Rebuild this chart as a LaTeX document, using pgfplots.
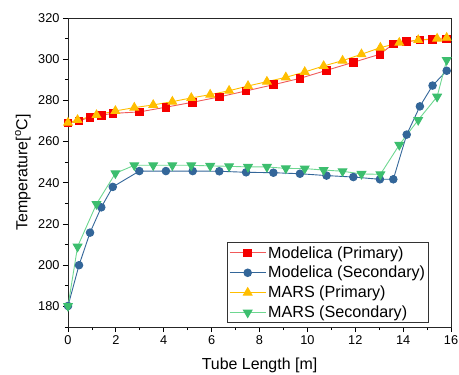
\documentclass[border=0pt]{standalone}
\usepackage{pgfplots}
\pgfplotsset{compat=1.18}
\usepackage{fontspec}
\setmainfont{Liberation Sans}
\definecolor{cRed}{RGB}{245,0,0}
\definecolor{cRedL}{RGB}{240,90,90}
\definecolor{cBlue}{RGB}{51,102,153}
\definecolor{cYel}{RGB}{255,190,0}
\definecolor{cGrn}{RGB}{60,190,110}
\definecolor{cGrnL}{RGB}{110,215,145}
\begin{document}
\begin{tikzpicture}
\begin{axis}[
  at={(0,0)}, anchor=south west,
  scale only axis,
  width=383bp, height=309bp,
  xmin=0, xmax=16, ymin=170, ymax=320,
  xtick={0,2,...,16}, minor xtick={1,3,...,15},
  ytick={180,200,...,320}, minor ytick={170,190,...,310},
  tick align=outside,
  major tick length=5bp, minor tick length=3bp,
  xtick pos=bottom, ytick pos=left,
  axis line style={black!85, line width=0.8bp},
  every tick/.style={black, line width=0.8bp},
  /pgf/number format/assume math mode=true,
  ticklabel style={font=\fontsize{12.8}{15}\selectfont},
  label style={font=\fontsize{16}{19}\selectfont},
  xlabel={Tube Length [m]},
  ylabel={Temperature[\textsuperscript{o}C]},
  xlabel style={at={(axis description cs:0.5,-0.123)}, anchor=center},
  ylabel style={at={(axis description cs:-0.1175,0.5)}, anchor=center},
  legend style={at={(axis description cs:0.9426,0.0129)}, anchor=south east,
    font=\fontsize{16.2}{18}\selectfont, draw=black!80, line width=0.8bp,
    row sep=2.7bp, inner sep=1.5bp, cells={anchor=west}},
  legend image code/.code={
    \draw[mark repeat=2,mark phase=2] plot coordinates {(0bp,0bp)(18bp,0bp)(36bp,0bp)};
  },
  clip=false,
]
\addplot[cRedL, line width=0.9bp, mark=square*, mark size=3.8bp, mark options={cRed, fill=cRed, draw=cRed}] coordinates {
(0,269.0)(0.46,270.1)(0.92,271.8)(1.39,272.8)(1.87,273.7)(2.98,274.4)(4.09,276.7)(5.21,279.1)(6.32,281.7)(7.44,284.6)(8.58,287.6)(9.69,290.7)(10.8,294.6)(11.92,298.5)(13.03,302.4)(13.59,307.4)(14.15,308.5)(14.7,309.3)(15.23,309.7)(15.82,309.8)};
\addlegendentry{Modelica (Primary)}
\addplot[cBlue, line width=0.9bp, mark=*, mark size=3.8bp, mark options={fill=cBlue}] coordinates {
(0,180.2)(0.46,200.0)(0.92,215.8)(1.39,228.1)(1.87,238.0)(2.98,245.7)(4.09,245.7)(5.21,245.7)(6.32,245.6)(7.44,245.1)(8.58,244.9)(9.69,244.4)(10.8,243.5)(11.92,242.8)(13.03,241.7)(13.59,241.7)(14.15,263.4)(14.7,277.1)(15.23,287.2)(15.82,294.4)};
\addlegendentry{Modelica (Secondary)}
\addplot[cYel, line width=0.9bp, mark=triangle*, mark size=5bp, mark options={fill=cYel}] coordinates {
(0,269.2)(0.4,270.5)(1.19,272.9)(1.98,274.9)(2.77,276.5)(3.56,277.8)(4.36,279.4)(5.15,281.2)(5.94,282.8)(6.73,284.7)(7.52,287.0)(8.31,289.1)(9.1,291.2)(9.89,293.8)(10.68,296.7)(11.47,299.3)(12.26,302.4)(13.05,305.6)(13.84,308.0)(14.63,309.3)(15.42,310.0)(15.82,310.4)};
\addlegendentry{MARS (Primary)}
\addplot[cGrnL, line width=0.9bp, mark=triangle*, mark size=5bp, mark options={cGrn, fill=cGrn, rotate=180}] coordinates {
(0,180.2)(0.4,209.0)(1.19,229.7)(1.98,244.6)(2.77,248.5)(3.56,248.5)(4.36,248.5)(5.15,248.5)(5.94,248.2)(6.73,248.0)(7.52,247.7)(8.31,247.7)(9.1,247.0)(9.89,246.9)(10.68,246.2)(11.47,245.6)(12.26,244.3)(13.05,244.1)(13.84,258.4)(14.63,270.5)(15.42,281.8)(15.82,299.6)};
\addlegendentry{MARS (Secondary)}
\end{axis}
\pgfresetboundingbox
\path[use as bounding box] (-68bp,-48bp) rectangle (391bp,327bp);
\end{tikzpicture}
\end{document}
